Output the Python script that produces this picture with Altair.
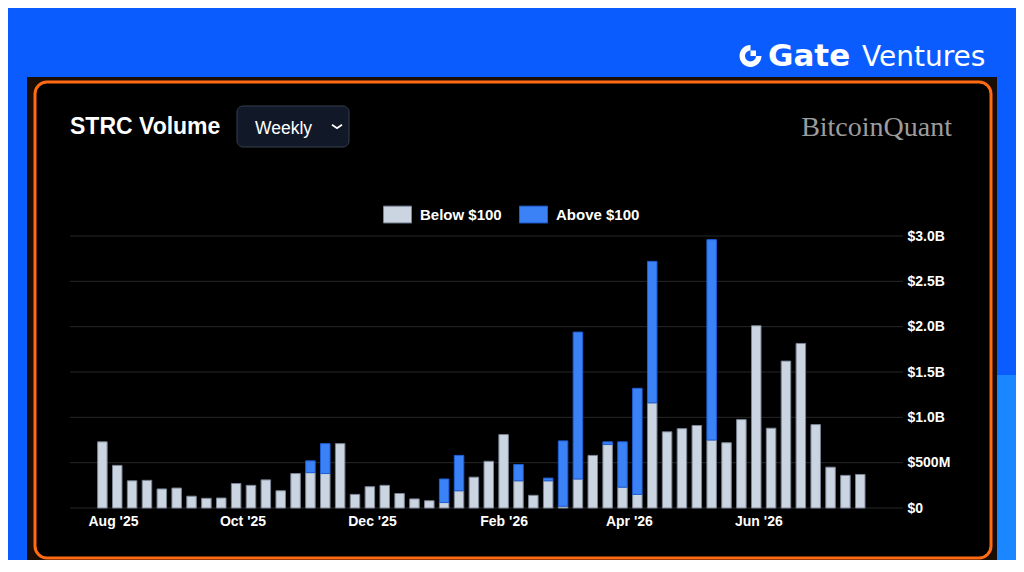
import altair as alt
import pandas as pd

# ---------------- data ----------------
WEEK_START = "2025-07-27"
BELOW = [0.73, 0.47, 0.30, 0.305, 0.21, 0.22, 0.13, 0.107, 0.11, 0.27,
         0.25, 0.31, 0.19, 0.38, 0.39, 0.38, 0.71, 0.15, 0.235, 0.25,
         0.16, 0.10, 0.08, 0.06, 0.19, 0.34, 0.515, 0.81, 0.30, 0.14,
         0.30, 0.02, 0.32, 0.58, 0.70, 0.23, 0.15, 1.16, 0.84, 0.875,
         0.91, 0.75, 0.72, 0.975, 2.01, 0.88, 1.62, 1.815, 0.92, 0.45,
         0.36, 0.37]
ABOVE = [0, 0, 0, 0, 0, 0, 0, 0, 0, 0,
         0, 0, 0, 0, 0.13, 0.33, 0, 0, 0, 0,
         0, 0, 0, 0.26, 0.39, 0, 0, 0, 0.18, 0,
         0.03, 0.72, 1.62, 0, 0.03, 0.50, 1.17, 1.56, 0, 0,
         0, 2.21, 0, 0, 0, 0, 0, 0, 0, 0,
         0, 0]
SERIES = ["Below $100", "Above $100"]
Y_TICKS = [0, 0.5e9, 1.0e9, 1.5e9, 2.0e9, 2.5e9, 3.0e9]
X_TICKS = [(2025, 8), (2025, 10), (2025, 12), (2026, 2), (2026, 4), (2026, 6)]

TITLE = "STRC Volume"
DROPDOWN = "Weekly"
BRAND = "BitcoinQuant"
LOGO_BOLD = "Gate"
LOGO_LIGHT = "Ventures"

# ---------------- style ----------------
FONT = "Liberation Sans"
BLUE_BG = "#0b5cff"
FILL = ["#cbd5e1", "#3b82f6"]
EDGE = ["#7b8494", "#1f5fd6"]
GRID = "#272727"
OX, OY = 70, 236  # page position of plot origin
W, H = 823, 272

dates = pd.date_range(WEEK_START, periods=len(BELOW), freq="7D").strftime("%Y-%m-%dT00:00:00")
rows = []
for d, b, a in zip(dates, BELOW, ABOVE):
    rows.append({"week": d, "series": SERIES[0], "k": 0, "vol": b * 1e9})
    if a > 0:
        rows.append({"week": d, "series": SERIES[1], "k": 1, "vol": a * 1e9})
df = pd.DataFrame(rows)
grid_df = pd.DataFrame({"v": Y_TICKS})

one = alt.Data(values=[{"a": 1}])


def px(x):
    return x - OX


def py(y):
    return y - OY


def rect(x1, x2, y1, y2, **kw):
    return alt.Chart(one).mark_rect(**kw).encode(
        x=alt.value(px(x1)), x2=alt.value(px(x2)),
        y=alt.value(py(y1)), y2=alt.value(py(y2)))


def text(t, x, y, **kw):
    return alt.Chart(one).mark_text(text=t, **kw).encode(
        x=alt.value(px(x)), y=alt.value(py(y)))


bg = rect(8, 1016, 8, 560, fill=BLUE_BG)
side = rect(997, 1016, 375, 560, fill="#1a86ff")
panel = rect(27, 997, 77, 560, fill="#1a0d05")
border = rect(35, 991, 82, 558, fill="#000000", stroke="#ff6a13",
              strokeWidth=3, cornerRadius=12)

title = text(TITLE, 70, 134, align="left", baseline="alphabetic", font=FONT,
             fontSize=23, fontWeight="bold", color="white")
dd_box = rect(237, 349, 106, 147, fill="#111827", stroke="#374151",
              strokeWidth=1, cornerRadius=6)
dd_text = text(DROPDOWN, 255, 134, align="left", baseline="alphabetic", font=FONT,
               fontSize=17.5, color="white")
chev = alt.Chart(one).mark_point(shape="M-1,-0.35L0,0.35L1,-0.35", filled=False,
                                 stroke="white", strokeWidth=1.8, size=100,
                                 opacity=1).encode(
    x=alt.value(px(337)), y=alt.value(py(126.5)))
brand = text(BRAND, 952, 136, align="right", baseline="alphabetic",
             font="Liberation Serif", fontSize=28, color="#9c9c9c")

icon = alt.Chart(one).mark_point(
    shape="M0,-1A1,1 0 1,0 1,0L0.5,0A0.5,0.5 0 1,1 0,-0.5Z M0,-0.5L0.5,-0.5L0.5,0L0,0Z",
    filled=True, fill="white", size=480, opacity=1, strokeWidth=0).encode(
    x=alt.value(px(750.5)), y=alt.value(py(56)))
logo1 = text(LOGO_BOLD, 768, 66, align="left", baseline="alphabetic",
             font="DejaVu Sans", fontSize=31, fontWeight="bold", color="white")
logo2 = text(LOGO_LIGHT, 862, 66, align="left", baseline="alphabetic",
             font="DejaVu Sans", fontSize=28, color="white")

label_expr = ("datum.value == 0 ? '$0' : (datum.value < 1e9 ? '$' + format(datum.value / 1e6, 'd') + 'M'"
              " : '$' + format(datum.value / 1e9, '.1f') + 'B')")

y_scale = alt.Scale(domain=[0, 3e9], nice=False)

grid = alt.Chart(grid_df).mark_rule(color=GRID, strokeWidth=1).encode(
    y=alt.Y("v:Q", scale=y_scale),
    x=alt.value(0), x2=alt.value(W + 10))

bars = alt.Chart(df).mark_bar(width=9.5, strokeWidth=1).encode(
    x=alt.X("week:T",
            scale=alt.Scale(domain=[alt.DateTime(year=2025, month=7, date=11, hours=18),
                                    alt.DateTime(year=2026, month=8, date=3, hours=10)],
                            nice=False, padding=0),
            axis=alt.Axis(values=[alt.DateTime(year=y, month=m, date=1) for y, m in X_TICKS],
                          format="%b '%y", title=None, ticks=False, domain=False, grid=False,
                          labelFlush=False, labelPadding=6, labelColor="white",
                          labelFont=FONT, labelFontSize=14, labelFontWeight="bold",
                          zindex=1)),
    y=alt.Y("vol:Q", stack="zero", scale=y_scale,
            axis=alt.Axis(orient="right", values=Y_TICKS, labelExpr=label_expr, title=None,
                          grid=False, domain=False, ticks=False, labelPadding=14,
                          labelColor="white", labelFont=FONT, labelFontSize=14,
                          labelFontWeight="bold", zindex=1)),
    color=alt.Color("series:N", scale=alt.Scale(domain=SERIES, range=FILL),
                    legend=alt.Legend(orient="none", legendX=313, legendY=-36,
                                      direction="horizontal", title=None,
                                      symbolType="M-1,-0.6L1,-0.6L1,0.6L-1,0.6Z",
                                      symbolSize=784, symbolOpacity=1,
                                      symbolStrokeColor="#5f6673", symbolStrokeWidth=1,
                                      labelColor="white", labelFont=FONT,
                                      labelFontSize=15, labelFontWeight="bold",
                                      labelOffset=8, columnPadding=15, padding=0,
                                      zindex=1)),
    stroke=alt.Stroke("series:N", scale=alt.Scale(domain=SERIES, range=EDGE), legend=None),
    order=alt.Order("k:Q", sort="ascending"),
)

chart = alt.layer(
    bg, side, panel, border, title, dd_box, dd_text, chev, brand, icon, logo1, logo2,
    grid, bars
).properties(width=W, height=H, padding=0).configure(
    background=BLUE_BG
).configure_view(strokeWidth=0)

chart.save("out.html", embed_options={"renderer": "svg", "actions": False})
